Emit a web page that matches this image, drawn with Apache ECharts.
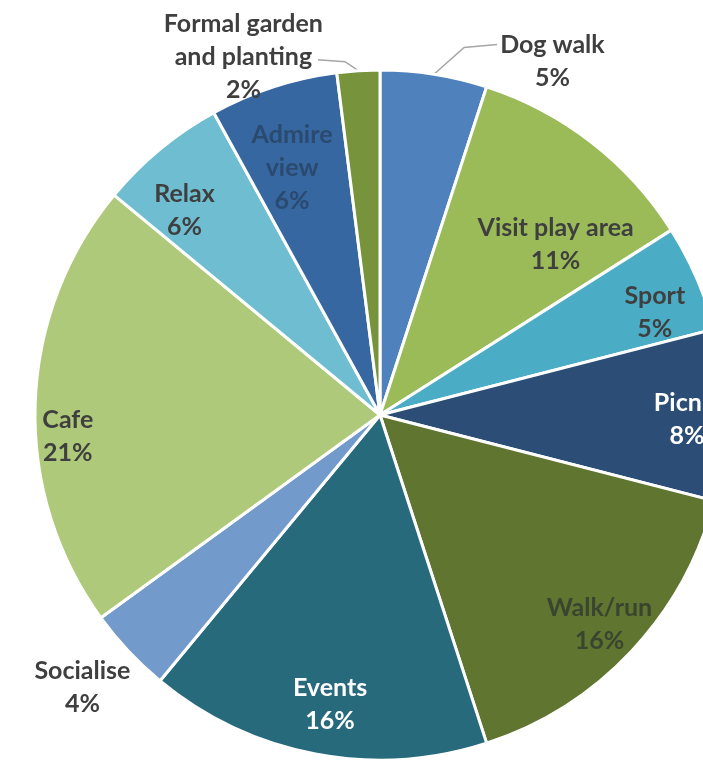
<!DOCTYPE html>
<html>
<head>
<meta charset="utf-8">
<title>Park activities</title>
<script src="https://cdn.jsdelivr.net/npm/echarts@6/dist/echarts.min.js"></script>
<style>
  html, body { margin: 0; padding: 0; background: #ffffff; }
  #chart { width: 703px; height: 774px; }
</style>
</head>
<body>
<div id="chart"></div>
<script>
// Activity categories, clockwise from 12 o'clock
const categories = [
  'Dog walk', 'Visit play area', 'Sport', 'Picnic', 'Walk/run', 'Events',
  'Socialise', 'Cafe', 'Relax', 'Admire\nview', 'Formal garden\nand planting'
];
// Share of respondents (%)
const shares = [5, 11, 5, 8, 16, 16, 4, 21, 6, 6, 2];

// Slice fills
const sliceColors = [
  '#4f81bd', '#9bbb59', '#4bacc6', '#2c4d75', '#5f7530', '#276a7c',
  '#729aca', '#afc97a', '#6fbdd1', '#3767a0', '#77933c'
];
// Label text colours
const labelColors = [
  '#3f3f3f', '#3f3f3f', '#3f3f3f', '#ffffff', '#3a4530', '#ffffff',
  '#3f3f3f', '#3f3f3f', '#3f3f3f', '#2a4a70', '#3f3f3f'
];
// Label placement: [angle shift from slice middle (deg), distance as fraction of radius]
const labelSpots = [
  [17, 1.14], [8, 0.71], [3, 0.85], [0.9, 0.89], [0.5, 0.88], [-1, 0.85],
  [0.7, 1.17], [-5.8, 0.907], [-4.1, 0.82], [-1.6, 0.76], [-17.3, 1.11]
];
// Slices whose labels sit outside the pie
const outsideLabels = { 0: 'line', 6: 'plain', 10: 'line' };

const CX = 380, CY = 415, R = 345;

// Middle angle of each slice, clockwise from top, in degrees
const total = shares.reduce((a, b) => a + b, 0);
const midAngles = [];
let acc = 0;
shares.forEach(v => {
  midAngles.push((acc + v / 2) / total * 360);
  acc += v;
});

function polar(angleDeg, r) {
  const a = angleDeg * Math.PI / 180;
  return [CX + r * Math.sin(a), CY - r * Math.cos(a)];
}

const data = categories.map((name, i) => {
  const outside = outsideLabels[i];
  return {
    name: name,
    value: shares[i],
    itemStyle: { color: sliceColors[i] },
    label: {
      position: outside ? 'outside' : 'inside',
      color: labelColors[i]
    },
    labelLine: {
      show: outside === 'line',
      lineStyle: { color: '#a6a6a6', width: 1.5 }
    }
  };
});

const chart = echarts.init(document.getElementById('chart'), null, { renderer: 'canvas' });

chart.setOption({
  backgroundColor: '#ffffff',
  animation: false,
  series: [{
    type: 'pie',
    center: [CX, CY],
    radius: R,
    startAngle: 90,
    clockwise: true,
    avoidLabelOverlap: false,
    data: data,
    itemStyle: { borderColor: '#ffffff', borderWidth: 3 },
    label: {
      show: true,
      formatter: p => p.name + '\n' + p.value + '%',
      fontFamily: 'Lato',
      fontWeight: 'bold',
      fontSize: 25,
      lineHeight: 33,
      align: 'center'
    },
    labelLine: { length: 10, length2: 10 },
    labelLayout: function (params) {
      const i = params.dataIndex;
      const spot = labelSpots[i];
      const pos = polar(midAngles[i] + spot[0], R * spot[1]);
      const out = {
        x: pos[0],
        y: pos[1],
        align: 'center',
        verticalAlign: 'middle'
      };
      if (outsideLabels[i] === 'line') {
        const rect = params.labelRect;
        const rim = polar(midAngles[i], R);
        const top = pos[1] - rect.height / 2;
        let end, bend;
        if (pos[0] > CX) {
          end = [pos[0] - rect.width / 2 - 3, top + 16];
          bend = [end[0] - 33, end[1] + 3];
        } else {
          end = [pos[0] + rect.width / 2 - 5, top + 52];
          bend = [end[0] + 27, end[1] + 2];
        }
        out.labelLinePoints = [rim, bend, end];
      }
      return out;
    }
  }]
});
</script>
</body>
</html>
